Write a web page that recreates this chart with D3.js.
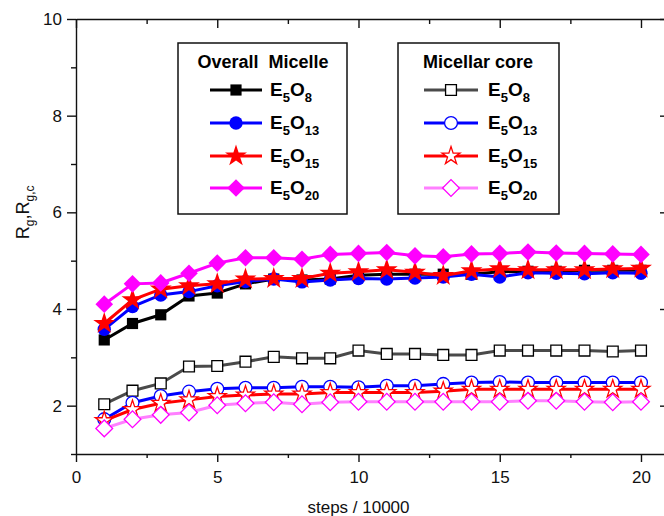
<!DOCTYPE html>
<html>
<head>
<meta charset="utf-8">
<script src="https://cdn.jsdelivr.net/npm/d3@7"></script>
<style>
  body { margin: 0; background: #fff; }
  svg { display: block; font-family: "Liberation Sans", Arial, sans-serif; }
</style>
</head>
<body>
<div id="chart"></div>
<script>
// steps / 10000
const steps = d3.range(1, 21);

// Overall micelle Rg
const overallE5O8  = [3.36, 3.70, 3.88, 4.27, 4.33, 4.52, 4.62, 4.60, 4.62, 4.70, 4.72, 4.72, 4.72, 4.72, 4.77, 4.78, 4.78, 4.80, 4.80, 4.80];
const overallE5O13 = [3.58, 4.05, 4.29, 4.36, 4.48, 4.57, 4.62, 4.56, 4.60, 4.63, 4.62, 4.64, 4.66, 4.72, 4.66, 4.75, 4.74, 4.73, 4.75, 4.74];
const overallE5O15 = [3.70, 4.19, 4.41, 4.48, 4.52, 4.62, 4.63, 4.63, 4.74, 4.77, 4.81, 4.76, 4.69, 4.79, 4.83, 4.81, 4.81, 4.81, 4.83, 4.84];
const overallE5O20 = [4.10, 4.52, 4.54, 4.74, 4.95, 5.06, 5.06, 5.03, 5.13, 5.15, 5.17, 5.10, 5.08, 5.14, 5.15, 5.18, 5.16, 5.15, 5.14, 5.13];

// Micellar core Rg,c
const coreE5O8  = [2.03, 2.31, 2.46, 2.81, 2.82, 2.91, 3.01, 2.98, 2.98, 3.14, 3.07, 3.07, 3.05, 3.05, 3.14, 3.14, 3.14, 3.14, 3.12, 3.14];
const coreE5O13 = [1.72, 2.06, 2.20, 2.29, 2.35, 2.37, 2.37, 2.39, 2.39, 2.38, 2.41, 2.41, 2.45, 2.48, 2.49, 2.48, 2.48, 2.48, 2.48, 2.48];
const coreE5O15 = [1.69, 1.92, 2.05, 2.12, 2.19, 2.22, 2.24, 2.24, 2.27, 2.27, 2.27, 2.27, 2.30, 2.34, 2.34, 2.34, 2.34, 2.34, 2.34, 2.34];
const coreE5O20 = [1.53, 1.72, 1.81, 1.86, 2.01, 2.05, 2.07, 2.03, 2.07, 2.08, 2.08, 2.08, 2.08, 2.08, 2.08, 2.10, 2.10, 2.08, 2.07, 2.08];

const xTicks = [0, 5, 10, 15, 20];
const xMinor = [2.5, 7.5, 12.5, 17.5];
const yTicks = [2, 4, 6, 8, 10];
const yMinor = [1, 3, 5, 7, 9];

const series = [
  { sub1: "5", sub2: "8",  values: overallE5O8,  line: "#000", shape: "square",  fill: "#000", stroke: "none", group: 0 },
  { sub1: "5", sub2: "13", values: overallE5O13, line: "#0000ff", shape: "circle", fill: "#0000ff", stroke: "none", group: 0 },
  { sub1: "5", sub2: "15", values: overallE5O15, line: "#ff0000", shape: "star", fill: "#ff0000", stroke: "none", group: 0 },
  { sub1: "5", sub2: "20", values: overallE5O20, line: "#ff00ff", shape: "diamond", fill: "#ff00ff", stroke: "none", group: 0 },
  { sub1: "5", sub2: "8",  values: coreE5O8,  line: "#4a4a4a", shape: "square",  fill: "#fff", stroke: "#000", group: 1 },
  { sub1: "5", sub2: "13", values: coreE5O13, line: "#0000ff", shape: "circle", fill: "#fff", stroke: "#0000ff", group: 1 },
  { sub1: "5", sub2: "15", values: coreE5O15, line: "#ff0000", shape: "star", fill: "#fff", stroke: "#ff0000", group: 1 },
  { sub1: "5", sub2: "20", values: coreE5O20, line: "#ff80ff", shape: "diamond", fill: "#fff", stroke: "#ff00ff", group: 1 }
];

const W = 664, H = 516;
const svg = d3.select("#chart").append("svg").attr("width", W).attr("height", H);

const x = d3.scaleLinear().domain([0, 20.85]).range([76, 665]);
const y = d3.scaleLinear().domain([1, 10]).range([454, 19]);

const axisColor = "#111";

// bottom axis
const gb = svg.append("g").attr("transform", `translate(0,${y(1)})`);
gb.call(d3.axisBottom(x).tickValues(xTicks).tickSize(8).tickSizeOuter(0).tickPadding(9));
gb.append("g").call(d3.axisBottom(x).tickValues(xMinor).tickSize(4).tickFormat(""))
  .select(".domain").remove();

// left axis
const gl = svg.append("g").attr("transform", `translate(${x(0)},0)`);
gl.call(d3.axisLeft(y).tickValues(yTicks).tickSize(9).tickSizeOuter(0).tickPadding(5));
gl.append("g").call(d3.axisLeft(y).tickValues(yMinor).tickSize(5).tickFormat(""))
  .select(".domain").remove();

// top axis, ticks inward
const gt = svg.append("g").attr("transform", `translate(0,${y(10)})`);
gt.call(d3.axisBottom(x).tickValues(xTicks).tickSize(9).tickSizeOuter(0).tickFormat(""));
gt.append("g").call(d3.axisBottom(x).tickValues(xMinor).tickSize(5).tickFormat(""))
  .select(".domain").remove();

// right axis, ticks inward
const gr = svg.append("g").attr("transform", `translate(${x(20.85)},0)`);
gr.call(d3.axisLeft(y).tickValues(yTicks).tickSize(5).tickSizeOuter(0).tickFormat(""));

svg.selectAll(".domain, .tick line").attr("stroke", axisColor).attr("stroke-width", 1.4);
svg.selectAll(".tick text").attr("fill", "#111").style("font-size", "17px");

// axis titles
svg.append("text")
  .attr("x", x(10)).attr("y", 513)
  .attr("text-anchor", "middle")
  .style("font-size", "17px").attr("fill", "#111")
  .text("steps / 10000");

const yl = svg.append("text")
  .attr("transform", `translate(29,${y(6)}) rotate(-90)`)
  .attr("text-anchor", "middle")
  .style("font-size", "18px").attr("fill", "#111");
yl.append("tspan").text("R");
yl.append("tspan").attr("dy", 5).style("font-size", "12px").text("g");
yl.append("tspan").attr("dy", -5).text(",R");
yl.append("tspan").attr("dy", 5).style("font-size", "12px").text("g,c");

// symbols
function symbolPath(shape, open) {
  if (shape === "square") return d3.symbol(d3.symbolSquare, open ? 118 : 125)();
  if (shape === "circle") return d3.symbol(d3.symbolCircle, open ? 130 : 140)();
  if (shape === "star") return d3.symbol(d3.symbolStar, open ? 100 : 150)();
  return d3.symbol(d3.symbolSquare, open ? 140 : 155)();
}
function symbolRotate(shape) {
  return shape === "diamond" ? " rotate(45)" : "";
}

const line = d3.line().x((d, i) => x(steps[i])).y(d => y(d));

series.forEach(s => {
  svg.append("path")
    .datum(s.values)
    .attr("fill", "none")
    .attr("stroke", s.line)
    .attr("stroke-width", 3)
    .attr("d", line);
  svg.append("g").selectAll("path")
    .data(s.values)
    .enter().append("path")
    .attr("transform", (d, i) => `translate(${x(steps[i])},${y(d)})` + symbolRotate(s.shape))
    .attr("d", symbolPath(s.shape, s.group))
    .attr("fill", s.fill)
    .attr("stroke", s.stroke)
    .attr("stroke-width", s.group ? 1.3 : 0);
});

// legends
const legends = [
  { title: "Overall  Micelle", box: [178, 43, 347, 214], titleX: 263, lineX: [210, 262], labelX: 270 },
  { title: "Micellar core", box: [398, 43, 559, 214], titleX: 478, lineX: [424, 478], labelX: 488 }
];
const rowsY = [90, 123, 156, 188];

legends.forEach((lg, gi) => {
  const g = svg.append("g");
  g.append("rect")
    .attr("x", lg.box[0]).attr("y", lg.box[1])
    .attr("width", lg.box[2] - lg.box[0]).attr("height", lg.box[3] - lg.box[1])
    .attr("fill", "#fff").attr("stroke", "#111").attr("stroke-width", 1.5);
  g.append("text")
    .attr("x", lg.titleX).attr("y", 68)
    .attr("text-anchor", "middle")
    .style("font-size", "18px").style("font-weight", "bold")
    .style("white-space", "pre").attr("xml:space", "preserve")
    .text(lg.title);
  series.filter(s => s.group === gi).forEach((s, k) => {
    const ry = rowsY[k];
    g.append("line")
      .attr("x1", lg.lineX[0]).attr("x2", lg.lineX[1])
      .attr("y1", ry).attr("y2", ry)
      .attr("stroke", s.line).attr("stroke-width", 3);
    g.append("path")
      .attr("transform", `translate(${(lg.lineX[0] + lg.lineX[1]) / 2},${ry})` + symbolRotate(s.shape))
      .attr("d", symbolPath(s.shape, gi))
      .attr("fill", s.fill).attr("stroke", s.stroke)
      .attr("stroke-width", gi ? 1.3 : 0);
    const t = g.append("text")
      .attr("x", lg.labelX).attr("y", ry + 6)
      .style("font-size", "19px").style("font-weight", "bold");
    t.append("tspan").text("E");
    t.append("tspan").attr("dy", 6).style("font-size", "13px").text(s.sub1);
    t.append("tspan").attr("dy", -6).text("O");
    t.append("tspan").attr("dy", 6).style("font-size", "13px").text(s.sub2);
  });
});
</script>
</body>
</html>
